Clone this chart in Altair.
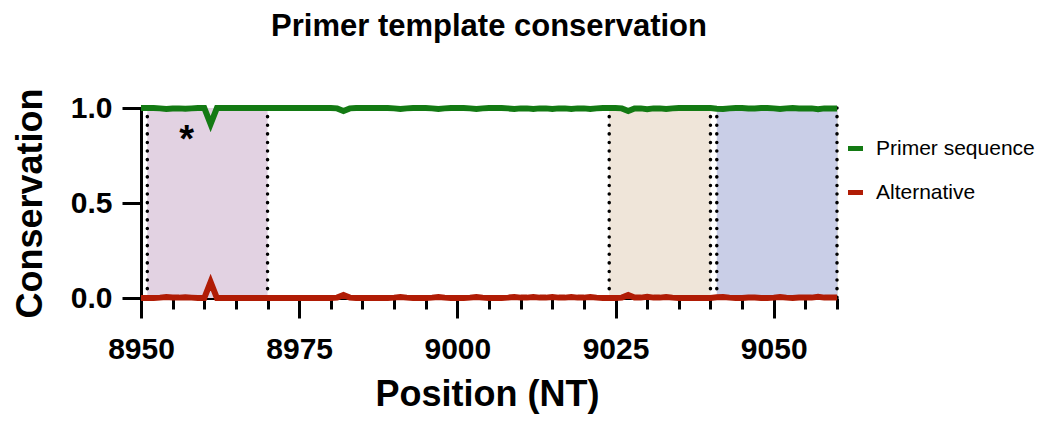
import altair as alt
import pandas as pd

# ---- data ----
positions = list(range(8950, 9061))
primer = [
    1.0, 1.0, 1.0, 0.998, 0.995, 0.997, 0.998, 0.996, 0.998, 1.0,   # 8950-8959
    1.0, 0.915, 1.0, 1.0, 1.0, 1.0, 1.0, 1.0, 1.0, 1.0,            # 8960-8969
    1.0, 1.0, 1.0, 1.0, 1.0, 1.0, 1.0, 1.0, 1.0, 1.0,              # 8970-8979
    1.0, 0.998, 0.984, 0.998, 1.0, 1.0, 1.0, 1.0, 1.0, 1.0,        # 8980-8989
    0.998, 0.995, 0.998, 1.0, 1.0, 1.0, 0.998, 0.995, 0.998, 1.0,  # 8990-8999
    1.0, 1.0, 0.998, 0.995, 0.998, 1.0, 1.0, 1.0, 0.998, 0.995,    # 9000-9009
    0.998, 0.998, 0.995, 0.998, 0.998, 0.995, 0.998, 0.998, 0.995, 0.998,  # 9010-9019
    0.998, 0.995, 0.998, 1.0, 1.0, 1.0, 0.998, 0.984, 0.998, 0.998,  # 9020-9029
    0.994, 0.998, 0.998, 0.995, 0.998, 1.0, 1.0, 1.0, 1.0, 1.0,    # 9030-9039
    1.0, 0.996, 0.995, 0.998, 1.0, 1.0, 0.998, 0.998, 1.0, 1.0,    # 9040-9049
    0.998, 0.995, 0.998, 1.0, 0.998, 0.998, 0.998, 0.993, 0.998, 0.998,  # 9050-9059
    0.998,                                                         # 9060
]
alternative = [
    0.0, 0.0, 0.0, 0.002, 0.005, 0.003, 0.002, 0.004, 0.002, 0.0,
    0.0, 0.085, 0.0, 0.0, 0.0, 0.0, 0.0, 0.0, 0.0, 0.0,
    0.0, 0.0, 0.0, 0.0, 0.0, 0.0, 0.0, 0.0, 0.0, 0.0,
    0.0, 0.002, 0.016, 0.002, 0.0, 0.0, 0.0, 0.0, 0.0, 0.0,
    0.002, 0.005, 0.002, 0.0, 0.0, 0.0, 0.002, 0.005, 0.002, 0.0,
    0.0, 0.0, 0.002, 0.005, 0.002, 0.0, 0.0, 0.0, 0.002, 0.005,
    0.002, 0.002, 0.005, 0.002, 0.002, 0.005, 0.002, 0.002, 0.005, 0.002,
    0.002, 0.005, 0.002, 0.0, 0.0, 0.0, 0.002, 0.016, 0.002, 0.002,
    0.006, 0.002, 0.002, 0.005, 0.002, 0.0, 0.0, 0.0, 0.0, 0.0,
    0.0, 0.004, 0.005, 0.002, 0.0, 0.0, 0.002, 0.002, 0.0, 0.0,
    0.002, 0.005, 0.002, 0.0, 0.002, 0.002, 0.002, 0.007, 0.002, 0.002,
    0.002,
]
series_names = ["Primer sequence", "Alternative"]
series_colors = ["#137a13", "#b01c05"]

region_names = ["Forward primer", "Probe", "Reverse primer"]
region_start = [8951, 9024, 9041]
region_end = [8970, 9040, 9060]
region_colors = ["#e2d2e2", "#efe5d9", "#c9cee7"]

boundary_lines = [8951, 8970, 9024, 9040, 9041, 9060]

star_pos = [8957.2]
star_val = [0.77]
star_text = ["*"]

x_ticks = list(range(8950, 9061, 5))
y_ticks = [0.0, 0.5, 1.0]

FONT = "Liberation Sans"

# ---- tables ----
lines_df = pd.DataFrame({
    "Position": positions * 2,
    "Conservation": primer + alternative,
    "Series": [series_names[0]] * len(positions) + [series_names[1]] * len(positions),
})
regions_df = pd.DataFrame({"region": region_names, "start": region_start, "end": region_end})
bounds_df = pd.DataFrame({"pos": boundary_lines})
star_df = pd.DataFrame({"pos": star_pos, "val": star_val, "txt": star_text})

xscale = alt.Scale(domain=[8950, 9060], nice=False, zero=False)
yscale = alt.Scale(domain=[0, 1], nice=False)

x_axis = alt.Axis(
    values=x_ticks,
    title="Position (NT)",
    labelExpr="datum.value % 25 === 0 ? datum.label : ''",
    format="d",
    tickSize={"condition": {"test": "datum.value % 25 === 0", "value": 20}, "value": 11},
    tickWidth=3, tickColor="black",
    domainWidth=3, domainColor="black",
    labelFont=FONT, labelFontSize=30, labelFontWeight="bold", labelColor="black",
    labelBaseline="alphabetic", labelPadding=40,
    titleFont=FONT, titleFontSize=36, titleFontWeight="bold", titleColor="black",
    titleBaseline="alphabetic", titleX=346, titleY=107, titleAnchor="middle",
    grid=False, labelFlush=False, labelOverlap=False,
)
y_axis = alt.Axis(
    values=y_ticks,
    title="Conservation",
    format=".1f",
    tickSize=19, tickWidth=3, tickColor="black",
    domainWidth=3, domainColor="black",
    labelFont=FONT, labelFontSize=30, labelFontWeight="bold", labelColor="black",
    labelPadding=10,
    titleFont=FONT, titleFontSize=36, titleFontWeight="bold", titleColor="black",
    titleBaseline="alphabetic", titleX=-100, titleY=95, titleAngle=-90,
    grid=False, labelFlush=False,
)

shade = alt.Chart(regions_df).mark_rect().encode(
    x=alt.X("start:Q", scale=xscale, axis=x_axis),
    x2="end:Q",
    y=alt.Y("y0:Q", scale=yscale, axis=y_axis),
    y2="y1:Q",
    fill=alt.Fill("region:N", scale=alt.Scale(domain=region_names, range=region_colors), legend=None),
).transform_calculate(y0="0", y1="1")

bounds = alt.Chart(bounds_df).mark_rule(
    color="black", strokeWidth=3.5, strokeDash=[0.1, 8.5], strokeCap="round"
).encode(x=alt.X("pos:Q", scale=xscale, axis=x_axis))

lines = alt.Chart(lines_df).mark_line(strokeWidth=6, clip=False).encode(
    x=alt.X("Position:Q", scale=xscale, axis=x_axis),
    y=alt.Y("Conservation:Q", scale=yscale, axis=y_axis),
    color=alt.Color(
        "Series:N",
        scale=alt.Scale(domain=series_names, range=series_colors),
        sort=series_names,
        legend=alt.Legend(
            title=None, orient="none", legendX=704, legendY=30, direction="vertical",
            symbolType="stroke", symbolSize=225, symbolStrokeWidth=5,
            labelFont=FONT, labelFontSize=21, labelColor="black", labelOffset=10,
            rowPadding=22, padding=0,
        ),
    ),
)

star = alt.Chart(star_df).mark_text(
    font=FONT, fontSize=38, fontWeight="bold", color="black", baseline="alphabetic", align="center"
).encode(
    x=alt.X("pos:Q", scale=xscale, axis=x_axis),
    y=alt.Y("val:Q", scale=yscale, axis=y_axis),
    text="txt:N",
)

chart = alt.layer(shade, bounds, lines, star).properties(
    width=696, height=190,
    autosize=alt.AutoSizeParams(type="none"),
    padding={"left": 141, "top": 108, "right": 210, "bottom": 125},
    title=alt.TitleParams(
        "Primer template conservation", font=FONT, fontSize=31, fontWeight="bold",
        color="black", anchor="middle", baseline="alphabetic", offset=21,
    ),
).configure_view(stroke=None).configure(background="white")

chart.save("out.html", embed_options={"renderer": "svg", "actions": False})
